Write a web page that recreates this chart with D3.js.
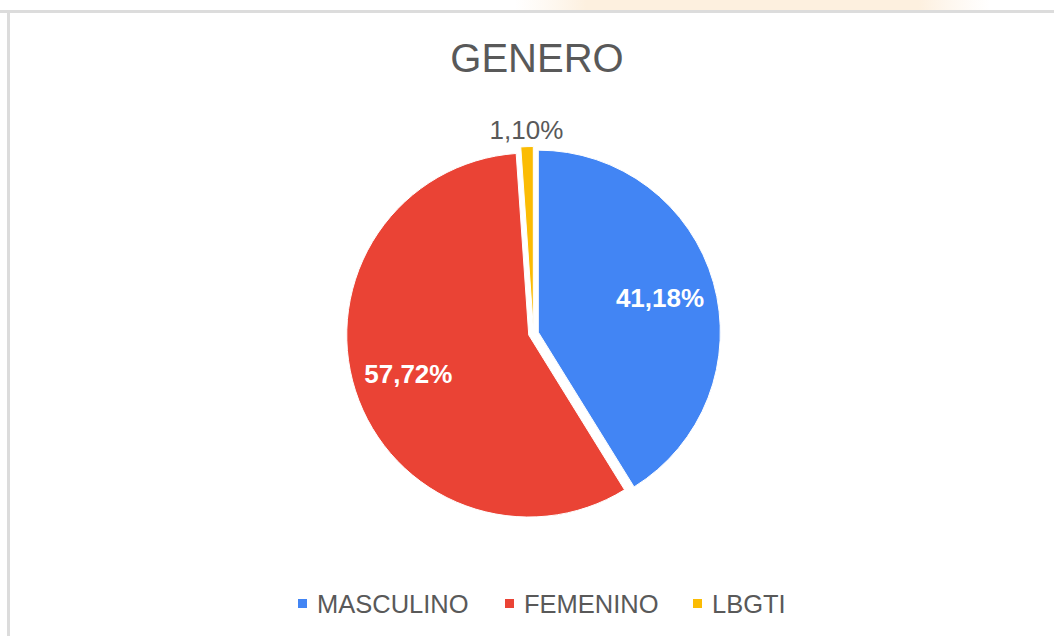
<!DOCTYPE html>
<html><head><meta charset="utf-8">
<script src="https://cdn.jsdelivr.net/npm/d3@7"></script>
<style>html,body{margin:0;padding:0;background:#fff;} svg{display:block;}</style>
</head><body>
<svg id="c" width="1054" height="636"></svg>
<script>
const categories = ["MASCULINO", "FEMENINO", "LBGTI"];
const values = [41.18, 57.72, 1.10];
const labels = ["41,18%", "57,72%", "1,10%"];
const colors = ["#4285F4", "#EA4335", "#FBBC04"];
const title = "GENERO";

const svg = d3.select("#c");
const font = "'Liberation Sans', Arial, sans-serif";

// faint background bleed at top
const defs = svg.append("defs");
const g0 = defs.append("linearGradient").attr("id","peach").attr("x1","0").attr("x2","1");
g0.append("stop").attr("offset","0").attr("stop-color","#fdf3e6").attr("stop-opacity",0);
g0.append("stop").attr("offset","0.15").attr("stop-color","#fdf0df").attr("stop-opacity",1);
g0.append("stop").attr("offset","0.85").attr("stop-color","#fdf0df").attr("stop-opacity",1);
g0.append("stop").attr("offset","1").attr("stop-color","#fdf3e6").attr("stop-opacity",0);
svg.append("rect").attr("x",515).attr("y",0).attr("width",475).attr("height",10).attr("fill","url(#peach)");

// frame
svg.append("rect").attr("x",0).attr("y",10).attr("width",1054).attr("height",3).attr("fill","#dcdcdc");
svg.append("rect").attr("x",7).attr("y",10).attr("width",3).attr("height",626).attr("fill","#dcdcdc");
svg.append("rect").attr("x",10).attr("y",13).attr("width",1044).attr("height",623).attr("fill","#fff");

svg.append("text").attr("x",537).attr("y",72).attr("text-anchor","middle")
  .attr("font-family",font).attr("font-size",40).attr("fill","#595959").text(title);

const cx = 533.5, cy = 333.5, r = 182, off = 5;
const pie = d3.pie().sort(null).value(d => d)(values);
const arc = d3.arc().innerRadius(0).outerRadius(r);
const g = svg.append("g").attr("transform",`translate(${cx},${cy})`);

pie.forEach((p,i) => {
  const mid = (p.startAngle + p.endAngle)/2;
  const dx = Math.sin(mid)*off, dy = -Math.cos(mid)*off;
  g.append("path").attr("d", arc(p)).attr("fill", colors[i])
    .attr("transform",`translate(${dx},${dy})`)
    .attr("stroke","#fff").attr("stroke-width",1);
  const inside = (p.endAngle - p.startAngle) > 0.3;
  const lr = inside ? r*0.695 + off : r + 22;
  const lx = Math.sin(mid)*lr, ly = -Math.cos(mid)*lr;
  g.append("text").attr("x",lx).attr("y",ly).attr("dy","0.36em")
    .attr("text-anchor","middle").attr("font-family",font)
    .attr("font-size",26).attr("font-weight", inside ? "bold" : "normal")
    .attr("fill", inside ? "#fff" : "#595959").text(labels[i]);
});

// legend
const lg = svg.append("g");
const legX = [298, 505, 693];
categories.forEach((c,i) => {
  lg.append("rect").attr("x",legX[i]).attr("y",599).attr("width",9).attr("height",9).attr("fill",colors[i]);
  lg.append("text").attr("x",legX[i]+19).attr("y",613).attr("font-family",font)
    .attr("font-size",25.5).attr("fill","#595959").text(c);
});
</script>
</body></html>
